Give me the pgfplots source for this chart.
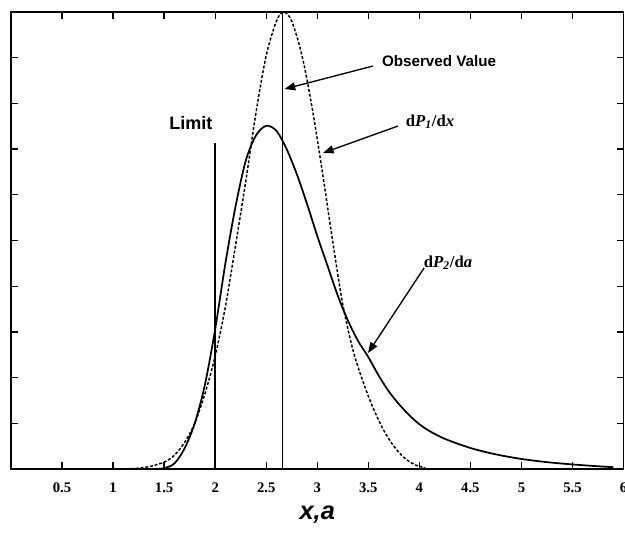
\documentclass[border=0pt]{standalone}
\usepackage{fontspec}
\setmainfont{Liberation Serif}
\newfontfamily\arial{Liberation Sans}
\usepackage{pgfplots}
\pgfplotsset{compat=1.18}
\usetikzlibrary{arrows.meta}
\begin{document}
\begin{tikzpicture}
\begin{axis}[
  scale only axis,
  width=459.4pt, height=342.75pt,
  xmin=0, xmax=6, ymin=0, ymax=10,
  xtick={0.5,1,1.5,2,2.5,3,3.5,4,4.5,5,5.5,6},
  xticklabels={0.5,1,1.5,2,2.5,3,3.5,4,4.5,5,5.5,6},
  ytick={1,2,3,4,5,6,7,8,9},
  yticklabels={},
  tick align=inside,
  major tick length=5pt,
  every tick/.style={black, line width=1pt},
  tick pos=both,
  axis line style={line width=1pt},
  xticklabel style={font=\bfseries\fontsize{11}{12}\selectfont, yshift=-7pt},
  /pgf/number format/assume math mode=true,
  xlabel={\arial\bfseries\itshape x,a},
  xlabel style={font=\fontsize{19}{22}\selectfont, at={(axis description cs:0.5,0)}, anchor=north, yshift=-24pt},
  clip=false,
]
\addplot[black, line width=1.1pt, dash pattern=on 2.2pt off 1.4pt, smooth, tension=0.5] coordinates {
(0,0) (1.0,0) (1.2,0.01) (1.35,0.05) (1.5,0.15) (1.6,0.3) (1.7,0.58) (1.8,1.0) (1.9,1.65) (2.0,2.47) (2.1,3.55) (2.2,4.9) (2.3,6.3) (2.4,7.8) (2.5,9.05) (2.6,9.8) (2.67,10) (2.75,9.8) (2.85,9.05) (2.95,7.9) (3.05,6.5) (3.15,5.0) (3.25,3.6) (3.35,2.6) (3.45,1.9) (3.55,1.32) (3.65,0.85) (3.75,0.5) (3.85,0.25) (3.95,0.1) (4.05,0.03) (4.2,0) (5.9,0)
};
\addplot[black, line width=1.3pt, smooth, tension=0.5] coordinates {
(0,0) (1.0,0) (1.4,0) (1.5,0.02) (1.6,0.12) (1.7,0.45) (1.8,1.0) (1.9,1.85) (2.0,3.06) (2.1,4.5) (2.2,5.75) (2.3,6.75) (2.4,7.3) (2.5,7.51) (2.6,7.4) (2.7,7.0) (2.8,6.45) (2.9,5.8) (3.0,5.1) (3.1,4.45) (3.2,3.8) (3.3,3.25) (3.4,2.8) (3.5,2.45) (3.6,2.05) (3.7,1.7) (3.8,1.42) (3.9,1.18) (4.0,0.98) (4.1,0.83) (4.25,0.66) (4.5,0.46) (4.75,0.32) (5.0,0.22) (5.25,0.15) (5.5,0.1) (5.75,0.06) (5.9,0.04)
};
% Limit line
\addplot[black, line width=1.2pt] coordinates {(2,0) (2,7.13)};
% Observed value line
\addplot[black, line width=1.4pt] coordinates {(2.66,0) (2.66,10)};
% thick left and bottom axis lines
\draw[line width=2.2pt] (rel axis cs:0,1) -- (rel axis cs:0,0) -- (rel axis cs:1,0);
% annotations
\node[font=\arial\bfseries\fontsize{13.5}{15}\selectfont] at (axis cs:1.763,7.571) {Limit};
\node[font=\arial\bfseries\fontsize{11.4}{13}\selectfont] at (axis cs:4.193,8.928) {Observed Value};
\node[font=\bfseries\fontsize{12.5}{14}\selectfont] at (axis cs:4.105,7.593) {d\textit{P}\textsubscript{\textit{1}}/d\textit{x}};
\node[font=\bfseries\fontsize{12.5}{14}\selectfont] at (axis cs:4.281,4.508) {d\textit{P}\textsubscript{\textit{2}}/d\textit{a}};
\draw[line width=1pt, -{Triangle[length=8pt,width=6pt]}] (axis cs:3.546,8.818) -- (axis cs:2.68,8.315);
\draw[line width=1pt, -{Triangle[length=8pt,width=6pt]}] (axis cs:3.791,7.505) -- (axis cs:3.056,6.915);
\draw[line width=1pt, -{Triangle[length=8pt,width=6pt]}] (axis cs:4.046,4.398) -- (axis cs:3.497,2.538);
\end{axis}
\pgfresetboundingbox
\path (-8.25pt,-48pt) rectangle (460.5pt,351.75pt);
\end{tikzpicture}
\end{document}
